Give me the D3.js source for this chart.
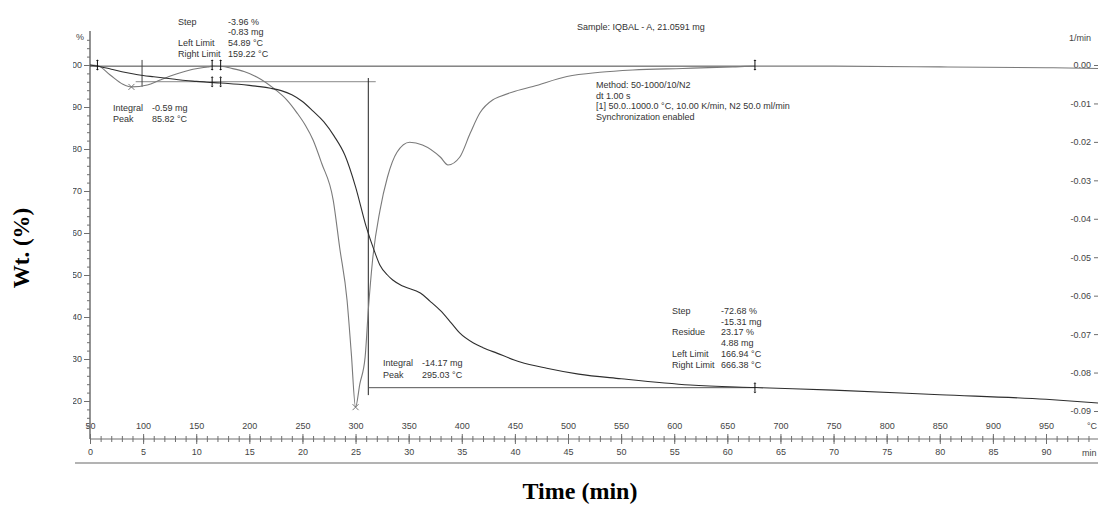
<!DOCTYPE html>
<html>
<head>
<meta charset="utf-8">
<script src="https://cdn.jsdelivr.net/npm/d3@7"></script>
<style>
  body { margin: 0; background: #fff; }
  svg { display: block; }
</style>
</head>
<body>
<div id="chart"></div>
<script>
const WIDTH = 1098;
const HEIGHT = 506;
const SANS = "'Liberation Sans', sans-serif";
const SERIF = "'Liberation Serif', serif";

// TG curve: time (min) -> weight (%)
const tgTime = [0, 1, 2, 3, 4, 5, 6, 7, 8, 9, 10, 11, 12, 13, 14, 15, 16, 17, 18, 19, 20, 21, 22, 23, 24, 25, 26, 26.8, 27.3, 28, 28.5, 29.5, 31.1, 32, 33, 34, 34.8, 36.1, 37, 38.3, 40.5, 43, 46, 50, 56.5, 62.6, 70, 80, 90, 95];
const tgWeight = [100, 99.6, 99.0, 98.4, 97.9, 97.5, 97.2, 96.9, 96.6, 96.3, 96.1, 95.9, 95.75, 95.6, 95.4, 95.15, 94.85, 94.45, 93.9, 92.9, 91.3, 89.0, 86.5, 83.0, 78.5, 71.0, 61.5, 55.5, 52.3, 50.0, 48.8, 47.3, 45.7, 43.8, 41.5, 38.6, 36.2, 33.8, 32.7, 31.4, 29.3, 27.8, 26.4, 25.3, 23.8, 23.2, 22.6, 21.5, 20.4, 19.5];

// DTG curve: time (min) -> rate (1/min)
const dtgTime = [0, 0.75, 1.9, 3.1, 3.9, 5.4, 6.6, 8.2, 9.7, 11.1, 11.6, 12.5, 13.2, 14.5, 15.7, 17.4, 18.5, 19.5, 20.3, 21.0, 21.8, 22.9, 23.5, 24.2, 24.6, 25.0, 25.4, 25.9, 26.2, 26.6, 27.3, 28.0, 28.9, 30.1, 31.3, 33.0, 33.7, 34.8, 35.8, 36.7, 37.9, 38.6, 39.8, 41.7, 44.9, 48, 51.1, 55.8, 60.5, 62.6, 70, 80, 90, 95];
const dtgRate = [0, -0.0002, -0.0026, -0.0050, -0.0057, -0.0052, -0.0039, -0.0023, -0.0011, -0.0005, -0.0003, -0.0004, -0.0008, -0.0017, -0.0031, -0.0063, -0.0090, -0.0125, -0.0158, -0.0195, -0.0255, -0.0352, -0.0474, -0.0612, -0.0750, -0.0890, -0.0830, -0.0760, -0.0638, -0.0508, -0.0378, -0.0292, -0.0227, -0.0201, -0.0208, -0.0240, -0.0260, -0.0240, -0.0177, -0.0125, -0.0091, -0.0082, -0.0070, -0.0056, -0.0030, -0.0019, -0.0013, -0.0009, -0.0005, -0.0003, -0.0003, -0.0005, -0.0007, -0.0009];

// axis ticks
const timeTicks = d3.range(0, 91, 5);
const tempTicks = d3.range(50, 951, 50);
const wtTicks = d3.range(20, 101, 10);
const rateTicks = d3.range(0, 10).map(i => -i / 100);

// evaluation marks
const dtgPeaks = [{t: 3.9, v: -0.0057}, {t: 25.0, v: -0.0890}];
const stepMarks = [
  {t: 0.7, v: 100}, {t: 11.5, v: 100}, {t: 12.3, v: 100},
  {t: 11.5, v: 96.04}, {t: 12.3, v: 96.04},
  {t: 62.6, v: 100}, {t: 62.6, v: 23.17},
];

// annotation text blocks [label, value]
const step1Text = [['Step', '-3.96 %'], ['', '-0.83 mg'], ['Left Limit', '54.89 °C'], ['Right Limit', '159.22 °C']];
const peak1Text = [['Integral', '-0.59 mg'], ['Peak', '85.82 °C']];
const peak2Text = [['Integral', '-14.17 mg'], ['Peak', '295.03 °C']];
const step2Text = [['Step', '-72.68 %'], ['', '-15.31 mg'], ['Residue', '23.17 %'], ['', '4.88 mg'], ['Left Limit', '166.94 °C'], ['Right Limit', '666.38 °C']];
const methodText = ['Method: 50-1000/10/N2', 'dt 1.00 s', '[1] 50.0..1000.0 °C, 10.00 K/min, N2 50.0 ml/min', 'Synchronization enabled'];
const sampleText = 'Sample: IQBAL - A, 21.0591 mg';

const svg = d3.select('#chart').append('svg')
  .attr('width', WIDTH)
  .attr('height', HEIGHT)
  .attr('font-family', SANS);

const x = d3.scaleLinear().domain([0, 90]).range([90, 1046]);
const xTemp = d3.scaleLinear().domain([50, 950]).range([90, 1046]);
const yW = d3.scaleLinear().domain([100, 20]).range([65, 401]);
const yR = d3.scaleLinear().domain([0, -0.09]).range([65, 411]);

const AXIS_Y = 439;
const axisColour = '#6f6f6f';
const labelColour = '#444';

// clips for the partially hidden labels (in local coordinates)
const defs = svg.append('defs');
defs.append('clipPath').attr('id', 'leftClip')
  .append('rect').attr('x', -17).attr('y', 0).attr('width', 40).attr('height', HEIGHT);
defs.append('clipPath').attr('id', 'topClip')
  .append('rect').attr('x', 0).attr('y', 18.5).attr('width', WIDTH).attr('height', HEIGHT);

function styleAxis(g) {
  g.select('.domain').remove();
  g.selectAll('.tick line').attr('stroke', axisColour);
  g.selectAll('.tick text')
    .attr('fill', labelColour)
    .attr('font-size', 9)
    .attr('font-family', SANS);
}

// x axes: time below, temperature above
svg.append('line')
  .attr('x1', x(0)).attr('x2', WIDTH)
  .attr('y1', AXIS_Y).attr('y2', AXIS_Y)
  .attr('stroke', axisColour);

svg.append('g')
  .attr('transform', `translate(0, ${AXIS_Y})`)
  .call(d3.axisBottom(x).tickValues(d3.range(0, 95, 1)).tickSize(3).tickFormat(''))
  .call(styleAxis);
svg.append('g')
  .attr('transform', `translate(0, ${AXIS_Y})`)
  .call(d3.axisTop(x).tickValues(d3.range(0, 95, 1)).tickSize(3).tickFormat(''))
  .call(styleAxis);

svg.append('g')
  .attr('transform', `translate(0, ${AXIS_Y})`)
  .call(d3.axisBottom(x).tickValues(timeTicks).tickSize(5).tickPadding(5))
  .call(styleAxis);
svg.append('g')
  .attr('transform', `translate(0, ${AXIS_Y})`)
  .call(d3.axisTop(xTemp).tickValues(tempTicks).tickSize(5).tickPadding(5))
  .call(styleAxis);

svg.append('text')
  .attr('x', 1087).attr('y', AXIS_Y - 10)
  .attr('font-size', 9).attr('fill', labelColour)
  .text('°C');
svg.append('text')
  .attr('x', 1082).attr('y', AXIS_Y + 17)
  .attr('font-size', 9).attr('fill', labelColour)
  .text('min');

svg.append('line')
  .attr('x1', 75).attr('x2', WIDTH)
  .attr('y1', 463).attr('y2', 463)
  .attr('stroke', '#9a9a9a')
  .attr('stroke-width', 1.5);

// left axis (weight)
svg.append('line')
  .attr('x1', 90).attr('x2', 90)
  .attr('y1', 31).attr('y2', AXIS_Y)
  .attr('stroke', axisColour)
  .attr('stroke-width', 1.5);

svg.append('g')
  .attr('transform', 'translate(90, 0)')
  .call(d3.axisLeft(yW).tickValues(d3.range(14, 108, 2)).tickSize(3).tickFormat(''))
  .call(styleAxis);
svg.append('g')
  .attr('transform', 'translate(90, 0)')
  .attr('clip-path', 'url(#leftClip)')
  .call(d3.axisLeft(yW).tickValues(wtTicks).tickSize(6).tickPadding(2))
  .call(styleAxis);

svg.append('text')
  .attr('x', 76).attr('y', 40)
  .attr('font-size', 9).attr('fill', labelColour)
  .text('%');

// right axis (DTG)
svg.append('g')
  .attr('transform', `translate(${WIDTH}, 0)`)
  .call(d3.axisLeft(yR).tickValues(rateTicks).tickSize(4).tickPadding(3).tickFormat(d => d.toFixed(2)))
  .call(styleAxis);

svg.append('text')
  .attr('x', 1091).attr('y', 41)
  .attr('text-anchor', 'end')
  .attr('font-size', 9).attr('fill', labelColour)
  .text('1/min');

// evaluation construction lines
const plot = svg.append('g');

plot.append('line')
  .attr('x1', x(0)).attr('x2', x(62.6))
  .attr('y1', yR(-0.0003)).attr('y2', yR(-0.0003))
  .attr('stroke', '#444');

plot.append('line')
  .attr('x1', x(4.3)).attr('x2', x(26.9))
  .attr('y1', yW(96.04)).attr('y2', yW(96.04))
  .attr('stroke', '#a0a0a0')
  .attr('stroke-width', 1.3);

plot.append('line')
  .attr('x1', x(4.9)).attr('x2', x(4.9))
  .attr('y1', yW(101.2)).attr('y2', yW(94.8))
  .attr('stroke', '#444');

plot.append('line')
  .attr('x1', x(26.2)).attr('x2', x(26.2))
  .attr('y1', yW(96.9)).attr('y2', yW(21.4))
  .attr('stroke', '#222');

plot.append('line')
  .attr('x1', x(26.2)).attr('x2', x(62.6))
  .attr('y1', yW(23.17)).attr('y2', yW(23.17))
  .attr('stroke', '#555');

// curves
const tgData = tgTime.map((t, i) => ({t, v: tgWeight[i]}));
const dtgData = dtgTime.map((t, i) => ({t, v: dtgRate[i]}));

const tgLine = d3.line()
  .x(d => x(d.t))
  .y(d => yW(d.v))
  .curve(d3.curveMonotoneX);

const dtgLine = d3.line()
  .x(d => x(d.t))
  .y(d => yR(d.v))
  .curve(d3.curveMonotoneX);

plot.append('path')
  .datum(dtgData)
  .attr('fill', 'none')
  .attr('stroke', '#7a7a7a')
  .attr('stroke-width', 1.1)
  .attr('d', dtgLine);

plot.append('path')
  .datum(tgData)
  .attr('fill', 'none')
  .attr('stroke', '#2e2e2e')
  .attr('stroke-width', 1.1)
  .attr('d', tgLine);

// peak crosses
plot.selectAll('.peak')
  .data(dtgPeaks)
  .enter().append('path')
  .attr('class', 'peak')
  .attr('transform', d => `translate(${x(d.t)}, ${yR(d.v)})`)
  .attr('d', 'M-3,-3L3,3M-3,3L3,-3')
  .attr('stroke', '#777')
  .attr('fill', 'none');

// step limit markers
const marks = plot.selectAll('.mark')
  .data(stepMarks)
  .enter().append('g')
  .attr('class', 'mark')
  .attr('transform', d => `translate(${x(d.t)}, ${yW(d.v)})`);

marks.append('line')
  .attr('y1', -4).attr('y2', 4)
  .attr('stroke', '#111');
marks.append('path')
  .attr('d', 'M-1.5,-4L0,-5.5L1.5,-4ZM-1.5,4L0,5.5L1.5,4Z')
  .attr('fill', '#111');

// text blocks
function textBlock(rows, x0, x1, y0, dy, clip) {
  const g = svg.append('g');
  if (clip) g.attr('clip-path', 'url(#topClip)');
  rows.forEach(([label, value], i) => {
    g.append('text')
      .attr('x', x0).attr('y', y0 + i * dy)
      .attr('font-size', 9).attr('fill', '#333')
      .text(label);
    g.append('text')
      .attr('x', x1).attr('y', y0 + i * dy)
      .attr('font-size', 9).attr('fill', '#333')
      .text(value);
  });
}

textBlock(step1Text, 178, 228, 24.5, 10.8, true);
textBlock(peak1Text, 113, 152, 111, 11.3);
textBlock(peak2Text, 383, 422, 366, 12);
textBlock(step2Text, 672, 721, 314, 10.7);

methodText.forEach((line, i) => {
  svg.append('text')
    .attr('x', 596).attr('y', 88 + i * 10.6)
    .attr('font-size', 9).attr('fill', '#333')
    .text(line);
});

svg.append('text')
  .attr('x', 577).attr('y', 30)
  .attr('font-size', 9).attr('fill', '#333')
  .text(sampleText);

// axis titles
svg.append('text')
  .attr('transform', 'translate(29, 248) rotate(-90)')
  .attr('text-anchor', 'middle')
  .attr('font-family', SERIF)
  .attr('font-weight', 'bold')
  .attr('font-size', 23)
  .text('Wt. (%)');

svg.append('text')
  .attr('x', 580).attr('y', 499)
  .attr('text-anchor', 'middle')
  .attr('font-family', SERIF)
  .attr('font-weight', 'bold')
  .attr('font-size', 24)
  .text('Time (min)');
</script>
</body>
</html>
